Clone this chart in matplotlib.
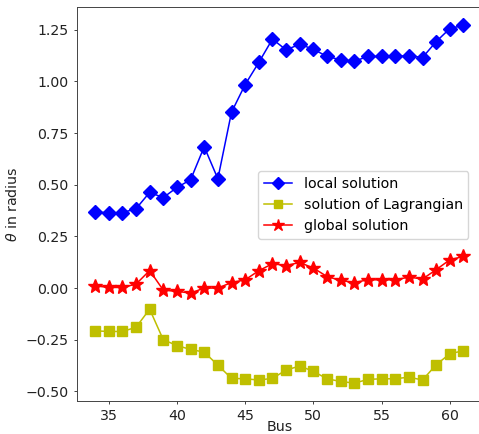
"""Bus voltage angles: local vs Lagrangian vs global solution."""

import matplotlib
matplotlib.use("Agg")
import matplotlib.pyplot as plt

# ---------- data -----------------------------------------------------------
buses = list(range(34, 62))

local_solution = [
    0.368, 0.365, 0.365, 0.384, 0.463, 0.438, 0.487, 0.524, 0.684, 0.529,
    0.851, 0.985, 1.092, 1.205, 1.153, 1.180, 1.156, 1.121, 1.105, 1.098,
    1.121, 1.121, 1.121, 1.125, 1.116, 1.193, 1.256, 1.272,
]

lagrangian_solution = [
    -0.207, -0.210, -0.210, -0.190, -0.102, -0.250, -0.278, -0.297, -0.310, -0.373,
    -0.437, -0.439, -0.445, -0.437, -0.397, -0.377, -0.403, -0.439, -0.452, -0.460,
    -0.442, -0.439, -0.439, -0.431, -0.445, -0.371, -0.318, -0.303,
]

global_solution = [
    0.011, 0.003, 0.003, 0.019, 0.085, -0.010, -0.016, -0.024, 0.000, 0.000,
    0.027, 0.040, 0.084, 0.118, 0.109, 0.124, 0.097, 0.056, 0.037, 0.027,
    0.040, 0.040, 0.040, 0.053, 0.044, 0.089, 0.137, 0.153,
]

# ---------- plot -----------------------------------------------------------
fig = plt.figure(figsize=(4.79, 4.34), dpi=100)
ax = fig.add_axes([0.160, 0.076, 0.846, 0.907])

ax.plot(buses, local_solution, "b-D", lw=1.1, ms=7.2, label="local solution")
ax.plot(buses, lagrangian_solution, "y-s", lw=1.1, ms=7.2,
        label="solution of Lagrangian")
ax.plot(buses, global_solution, "r-*", lw=1.1, ms=10.8, label="global solution")

ax.set_xticks([35, 40, 45, 50, 55, 60])
ax.set_yticks([-0.5, -0.25, 0.0, 0.25, 0.5, 0.75, 1.0, 1.25])
ax.tick_params(labelsize=10.2, length=2.5, width=0.6, colors="#222222")
for sp in ax.spines.values():
    sp.set_linewidth(0.7)
    sp.set_color("#444444")

ax.set_xlabel("Bus", fontsize=10.2, labelpad=-2.2, color="#222222")
ax.set_ylabel(r"$\theta$ in radius", fontsize=10.2, labelpad=4, color="#222222")

ax.legend(loc="upper left", bbox_to_anchor=(0.447, 0.584), borderaxespad=0,
          fontsize=10.3, markerscale=0.85, handlelength=2.0, framealpha=0.8)

fig.savefig("out.png", dpi=100)
